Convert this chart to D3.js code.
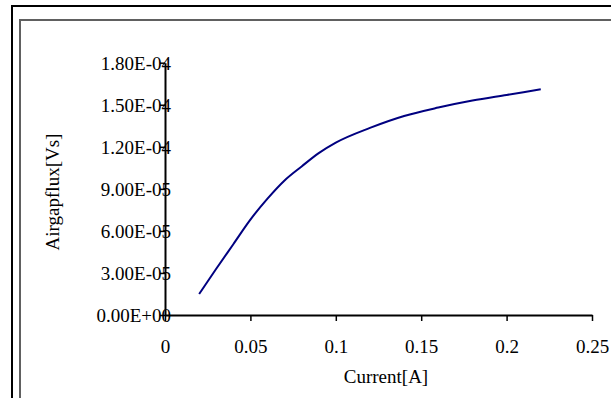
<!DOCTYPE html>
<html>
<head>
<meta charset="utf-8">
<script src="https://cdn.jsdelivr.net/npm/d3@7"></script>
<style>
  html, body { margin: 0; padding: 0; background: #fff; }
  svg { display: block; }
  text { font-family: "Liberation Serif", "Times New Roman", serif; fill: #000; }
</style>
</head>
<body>
<svg id="chart" width="611" height="398"></svg>
<script>
// data
const current = [0.02, 0.03, 0.04, 0.05, 0.06, 0.07, 0.08, 0.09, 0.10, 0.12, 0.14, 0.16, 0.18, 0.20, 0.22];
const flux = [1.5e-5, 3.3e-5, 5.05e-5, 6.8e-5, 8.3e-5, 9.6e-5, 1.06e-4, 1.155e-4, 1.23e-4, 1.335e-4, 1.42e-4, 1.48e-4, 1.53e-4, 1.57e-4, 1.61e-4];
const xTicks = [0, 0.05, 0.1, 0.15, 0.2, 0.25];
const yTicks = [0, 3e-5, 6e-5, 9e-5, 1.2e-4, 1.5e-4, 1.8e-4];
const yTickLabels = ['0.00E+00', '3.00E-05', '6.00E-05', '9.00E-05', '1.20E-04', '1.50E-04', '1.80E-04'];

const svg = d3.select('#chart');
const width = 611;
const height = 398;

// frames (cut off at right / bottom like the picture)
svg.append('rect')
  .attr('x', 12).attr('y', 6)
  .attr('width', width + 20).attr('height', height + 20)
  .attr('fill', 'none').attr('stroke', '#000').attr('stroke-width', 2);
svg.append('rect')
  .attr('x', 20).attr('y', 20)
  .attr('width', width + 20).attr('height', height + 20)
  .attr('fill', 'none').attr('stroke', '#606060').attr('stroke-width', 2);

const x = d3.scaleLinear().domain([0, 0.25]).range([165, 592]);
const y = d3.scaleLinear().domain([0, 1.8e-4]).range([315, 62.7]);

// x axis
const xAxis = svg.append('g')
  .attr('transform', `translate(0,${y(0)})`)
  .call(d3.axisBottom(x).tickValues(xTicks).tickSize(6).tickSizeOuter(0).tickFormat(d => String(d)));
xAxis.select('.domain').attr('stroke', '#000').attr('stroke-width', 2);
xAxis.selectAll('.tick line').attr('stroke', '#000').attr('stroke-width', 1.5);
xAxis.selectAll('.tick text')
  .attr('y', 38).attr('dy', null)
  .style('font-size', '19px')
  .style('font-family', '"Liberation Serif", "Times New Roman", serif');

// y axis
const yAxis = svg.append('g')
  .attr('transform', `translate(${x(0)},0)`)
  .call(d3.axisLeft(y).tickValues(yTicks).tickSize(5).tickSizeOuter(0).tickFormat((d, i) => yTickLabels[i]));
yAxis.select('.domain').attr('stroke', '#000').attr('stroke-width', 2);
yAxis.selectAll('.tick line').attr('stroke', '#000').attr('stroke-width', 1.5);
yAxis.selectAll('.tick text')
  .attr('x', 6).attr('dy', '0.34em')
  .style('font-size', '19px')
  .style('font-family', '"Liberation Serif", "Times New Roman", serif');

// curve
const line = d3.line()
  .x((d, i) => x(current[i]))
  .y(d => y(d))
  .curve(d3.curveMonotoneX);

svg.append('path')
  .datum(flux)
  .attr('d', line)
  .attr('fill', 'none')
  .attr('stroke', '#000080')
  .attr('stroke-width', 2);

// axis titles
svg.append('text')
  .attr('x', 386).attr('y', 383)
  .attr('text-anchor', 'middle')
  .style('font-size', '19px')
  .text('Current[A]');

svg.append('text')
  .attr('transform', 'translate(59,192) rotate(-90)')
  .attr('text-anchor', 'middle')
  .style('font-size', '19px')
  .text('Airgapflux[Vs]');
</script>
</body>
</html>
